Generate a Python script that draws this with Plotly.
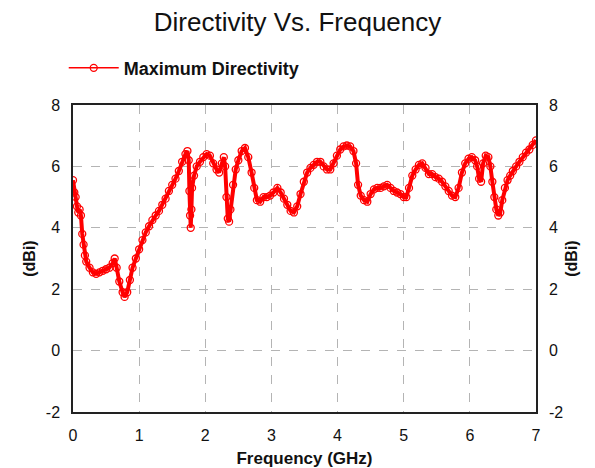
import plotly.graph_objects as go

freq_ghz = [0.00, 0.02, 0.04, 0.06, 0.08, 0.10, 0.12, 0.14, 0.16, 0.18, 0.20, 0.25, 0.30, 0.35, 0.40,
            0.45, 0.50, 0.55, 0.60, 0.63, 0.66, 0.70, 0.75, 0.78, 0.82, 0.86, 0.90, 0.95, 1.00, 1.05,
            1.10, 1.15, 1.20, 1.25, 1.30, 1.35, 1.40, 1.45, 1.50, 1.55, 1.60, 1.65, 1.70, 1.73, 1.75,
            1.76, 1.77, 1.78, 1.79, 1.80, 1.83, 1.87, 1.92, 1.97, 2.02, 2.07, 2.12, 2.17, 2.21, 2.25,
            2.28, 2.30, 2.32, 2.34, 2.36, 2.38, 2.42, 2.46, 2.50, 2.55, 2.60, 2.65, 2.70, 2.74, 2.78,
            2.83, 2.88, 2.93, 2.98, 3.03, 3.09, 3.14, 3.19, 3.24, 3.29, 3.34, 3.39, 3.44, 3.49, 3.54,
            3.59, 3.64, 3.69, 3.74, 3.79, 3.84, 3.89, 3.94, 3.99, 4.04, 4.09, 4.14, 4.19, 4.24, 4.28,
            4.31, 4.35, 4.40, 4.45, 4.50, 4.55, 4.60, 4.65, 4.70, 4.75, 4.80, 4.85, 4.90, 4.95, 5.00,
            5.04, 5.08, 5.13, 5.18, 5.23, 5.28, 5.33, 5.38, 5.43, 5.48, 5.53, 5.58, 5.63, 5.68, 5.73,
            5.78, 5.83, 5.88, 5.93, 5.98, 6.03, 6.08, 6.11, 6.14, 6.17, 6.20, 6.24, 6.28, 6.31, 6.34,
            6.37, 6.40, 6.43, 6.46, 6.49, 6.53, 6.57, 6.61, 6.65, 6.70, 6.75, 6.80, 6.85, 6.90, 6.95,
            7.00]
directivity_dbi = [5.55, 5.15, 5.00, 4.70, 4.50, 4.60, 4.40, 3.80, 3.45, 3.10, 2.90, 2.70, 2.55, 2.50, 2.55,
                   2.60, 2.65, 2.70, 2.85, 3.00, 2.70, 2.25, 1.90, 1.75, 1.90, 2.30, 2.70, 3.00, 3.30, 3.60,
                   3.85, 4.05, 4.25, 4.40, 4.55, 4.75, 4.95, 5.20, 5.40, 5.60, 5.85, 6.15, 6.40, 6.50, 6.20,
                   5.20, 4.40, 4.00, 4.60, 5.30, 5.70, 6.00, 6.15, 6.30, 6.40, 6.35, 6.10, 5.90, 5.80, 6.10,
                   6.30, 6.00, 5.00, 4.30, 4.20, 4.60, 5.40, 5.90, 6.20, 6.50, 6.60, 6.30, 5.80, 5.30, 4.90,
                   4.85, 5.00, 5.00, 5.05, 5.15, 5.30, 5.15, 4.95, 4.75, 4.55, 4.50, 4.70, 5.10, 5.50, 5.80,
                   5.95, 6.05, 6.15, 6.15, 6.00, 5.90, 5.90, 6.10, 6.35, 6.55, 6.65, 6.68, 6.65, 6.50, 6.10,
                   5.40, 5.05, 4.90, 4.85, 5.10, 5.25, 5.30, 5.30, 5.35, 5.40, 5.30, 5.20, 5.15, 5.10, 5.00,
                   5.00, 5.30, 5.70, 5.90, 6.05, 6.10, 5.95, 5.75, 5.75, 5.65, 5.60, 5.50, 5.35, 5.20, 5.05,
                   5.00, 5.30, 5.80, 6.10, 6.25, 6.30, 6.20, 6.00, 5.60, 5.50, 6.10, 6.35, 6.30, 6.00, 5.50,
                   5.00, 4.60, 4.40, 4.50, 4.90, 5.30, 5.55, 5.70, 5.85, 6.00, 6.15, 6.30, 6.45, 6.55, 6.70,
                   6.85]

x_ticks = [0, 1, 2, 3, 4, 5, 6, 7]
y_ticks = [-2, 0, 2, 4, 6, 8]
y_tick_labels = ["-2", "0", "2", "4", "6", "8"]

FONT = "Liberation Sans, Arial, sans-serif"
RED = "#ff0000"

fig = go.Figure()
# thick band formed by densely packed markers in the original
fig.add_trace(go.Scatter(
    x=freq_ghz, y=directivity_dbi, mode="lines", showlegend=False, hoverinfo="skip",
    line=dict(color=RED, width=4),
))
fig.add_trace(go.Scatter(
    x=freq_ghz, y=directivity_dbi, mode="lines+markers", name="Maximum Directivity",
    line=dict(color=RED, width=1.5),
    marker=dict(symbol="circle-open", size=7, color=RED, line=dict(width=1.3, color=RED)),
))
fig.add_trace(go.Scatter(
    x=freq_ghz, y=directivity_dbi, mode="lines", yaxis="y2", showlegend=False,
    line=dict(color="rgba(0,0,0,0)", width=0), hoverinfo="skip",
))

axis_common = dict(
    showline=True, linecolor="#222222", linewidth=1.5,
    showgrid=True, gridcolor="#b4b4b4", griddash="dash", gridwidth=1,
    zeroline=False, ticks="outside", ticklen=8, tickcolor="rgba(0,0,0,0)",
    tickfont=dict(family=FONT, size=16, color="#111111"),
    automargin=False,
)

fig.update_layout(
    width=595, height=468,
    paper_bgcolor="white", plot_bgcolor="white",
    margin=dict(l=73, r=59, t=105, b=56),
    title=dict(text="Directivity Vs. Frequency", x=0.5, xanchor="center", y=0.953, yanchor="middle",
               font=dict(family=FONT, size=26, color="#111111")),
    showlegend=True,
    legend=dict(x=-0.02, y=1.12, xanchor="left", yanchor="middle", orientation="h",
                font=dict(family=FONT, size=18, color="#111111", weight="bold"),
                bgcolor="rgba(0,0,0,0)", itemwidth=50),
    xaxis=dict(range=[0, 7], tickvals=x_ticks, mirror=True,
               title=dict(text="<b>Frequency (GHz)</b>", standoff=10,
                          font=dict(family=FONT, size=17, color="#111111")),
               **axis_common),
    yaxis=dict(range=[-2, 8], tickvals=y_ticks, ticktext=y_tick_labels,
               title=dict(text="<b>(dBi)</b>", standoff=6,
                          font=dict(family=FONT, size=16, color="#111111")),
               **axis_common),
    yaxis2=dict(range=[-2, 8], tickvals=y_ticks, ticktext=y_tick_labels, overlaying="y", side="right",
                title=dict(text="<b>(dBi)</b>", standoff=4,
                           font=dict(family=FONT, size=16, color="#111111")),
                **axis_common),
)
fig.write_html("out.html")
